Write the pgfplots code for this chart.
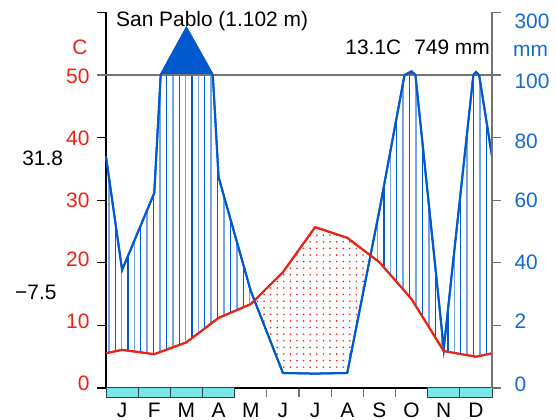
\documentclass[border=0pt]{standalone}
\usepackage{fontspec}
\setmainfont{Liberation Sans}
\usepackage{pgfplots}
\pgfplotsset{compat=1.18}
\usepgfplotslibrary{fillbetween}
\usetikzlibrary{patterns.meta}
\definecolor{tred}{RGB}{235,35,20}
\definecolor{pblue}{RGB}{0,90,205}
\definecolor{plight}{RGB}{115,165,230}
\definecolor{lblue}{RGB}{20,105,210}
\definecolor{frost}{RGB}{120,230,230}
\definecolor{boxdark}{RGB}{40,70,70}
\definecolor{axgray}{RGB}{115,115,115}
\begin{document}
\begin{tikzpicture}[font=\fontsize{21}{25}\selectfont]
\begin{axis}[
  at={(106bp,32bp)}, anchor=south west,
  scale only axis, width=386bp, height=375.5bp,
  xmin=0, xmax=12, ymin=0, ymax=60,
  clip=false,
  axis x line*=bottom, axis y line*=left,
  axis line style={black, line width=1.2bp},
  tick align=outside, major tick length=9bp,
  xtick={1,2,...,11}, xticklabels={},
  x tick style={axgray, line width=1.2bp},
  ytick={0,10,...,60}, yticklabels={},
  y tick style={black, line width=1.2bp},
  extra x ticks={0.5,1.5,...,11.5},
  extra x tick labels={J,F,M,A,M,J,J,A,S,O,N,D},
  extra x tick style={major tick length=0pt, xticklabel style={anchor=base, inner sep=0pt, yshift=-29bp}},
  extra y ticks={0.72,10.62,20.6,30.03,39.86,49.87},
  extra y tick labels={0,10,20,30,40,50},
  extra y tick style={major tick length=0pt, yticklabel style={text=tred, xshift=-13bp}},
  /pgf/number format/assume math mode=true,
]
% precipitation, scaled: mm/2 up to 100 mm, 50+(mm-100)/20 above
\addplot[name path=P, pblue, line width=2bp] coordinates {
 (0,37) (0.5,18.85) (1.5,31.15) (1.70,50) (2.5,57.5) (3.32,50) (3.5,33.7)
 (4.5,15.5) (5.5,2.4) (6.5,2.3) (7.5,2.4) (8.5,28.4) (9.28,50) (9.5,50.6)
 (9.62,50) (10.5,6.3) (11.42,50) (11.5,50.5) (11.6,50) (12,37)};
\addplot[name path=T, tred, line width=2bp] coordinates {
 (0,5.55) (0.5,6.1) (1.5,5.4) (2.5,7.3) (3.5,11.2) (4.5,13.4) (5.5,18.5)
 (6.5,25.7) (7.5,24.0) (8.5,20.1) (9.5,14.2) (10.5,5.9) (11.5,5.0) (12,5.55)};
\addplot[name path=L, draw=none] coordinates {(0,50) (12,50)};
\addplot[draw=none, fill=none] fill between[of=P and T, split,
  every even segment/.style={pattern={Lines[angle=90,distance=12.8bp,line width=1.3bp]}, pattern color=pblue}];
\addplot[draw=none, fill=none] fill between[of=P and T, split,
  every even segment/.style={pattern={Lines[angle=90,distance=12.8bp,xshift=6.4bp,line width=1.6bp]}, pattern color=plight},
  every odd segment/.style={pattern={Dots[distance=6.6bp,radius=0.9bp]}, pattern color=tred}];
\addplot[pblue, draw=none] fill between[of=P and L, soft clip={(axis cs:0,50) rectangle (axis cs:12,61)}];
\addplot[axgray, line width=1.6bp] coordinates {(-0.28,50) (12,50)};
\addplot[pblue, line width=2bp] coordinates {
 (0,37) (0.5,18.85) (1.5,31.15) (1.70,50) (2.5,57.5) (3.32,50) (3.5,33.7)
 (4.5,15.5) (5.5,2.4) (6.5,2.3) (7.5,2.4) (8.5,28.4) (9.28,50) (9.5,50.6)
 (9.62,50) (10.5,6.3) (11.42,50) (11.5,50.5) (11.6,50) (12,37)};
\addplot[tred, line width=2bp] coordinates {
 (0,5.55) (0.5,6.1) (1.5,5.4) (2.5,7.3) (3.5,11.2) (4.5,13.4) (5.5,18.5)
 (6.5,25.7) (7.5,24.0) (8.5,20.1) (9.5,14.2) (10.5,5.9) (11.5,5.0) (12,5.55)};
% frost months
\addplot[ybar interval, fill=frost, draw=boxdark, line width=1bp] coordinates {(0,-1.45) (1,-1.45) (2,-1.45) (3,-1.45) (4,-1.45)};
\addplot[ybar interval, fill=frost, draw=boxdark, line width=1bp] coordinates {(10,-1.45) (11,-1.45) (12,-1.45)};
\node[anchor=base, text=tred] at (axis cs:-0.81,53.35) {C};
\node[anchor=base] at (axis cs:-1.97,35.6) {31.8};
\node[anchor=base] at (axis cs:-2.18,14.17) {−7.5};
\node[anchor=base west, inner sep=0pt] at (axis cs:0.31,57.8) {San Pablo (1.102 m)};
\node[anchor=base east, inner sep=0pt] at (axis cs:11.94,53.35) {13.1C\hspace{13bp}749 mm};
\node[anchor=base, text=lblue] at (axis cs:13.2,52.9) {mm};
\end{axis}
\begin{axis}[
  at={(106bp,32bp)}, anchor=south west,
  scale only axis, width=386bp, height=375.5bp,
  xmin=0, xmax=12, ymin=0, ymax=60,
  axis x line=none, axis y line*=right,
  axis line style={axgray, line width=1.8bp},
  tick align=outside, major tick length=9bp,
  ytick={0,10,...,60}, yticklabels={},
  y tick style={axgray, line width=1.2bp},
  extra y ticks={0.56,10.7,20.13,30.03,39.46,49.04,58.55},
  extra y tick labels={0,2,40,60,80,100,300},
  extra y tick style={major tick length=0pt, yticklabel style={text=lblue, xshift=19bp}},
]
\addplot[draw=none] coordinates {(0,0) (12,60)};
\end{axis}
\pgfresetboundingbox
\useasboundingbox (0bp,0bp) rectangle (556bp,420bp);
\end{tikzpicture}
\end{document}
